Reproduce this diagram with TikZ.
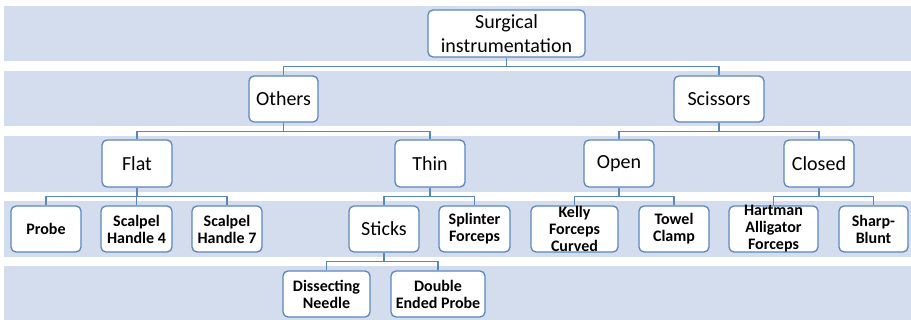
\documentclass[tikz,border=0pt]{standalone}
\usepackage{fontspec}
\setmainfont{Carlito}
\definecolor{band}{HTML}{D3DDED}
\definecolor{edge}{HTML}{5A87BE}
\begin{document}
\begin{tikzpicture}[x=1pt,y=-1pt,
 box/.style={draw=edge, line width=1.3pt, fill=white, rounded corners=5pt, inner sep=0pt, align=center, minimum height=46pt},
 big/.style={font=\fontsize{20}{24}\selectfont},
 small/.style={font=\fontsize{16}{17}\selectfont\bfseries},
 inlabel/.style={label={[small,align=center,inner sep=0pt]center:#1}},
 link/.style={draw=edge, line width=1.3pt}]
\useasboundingbox (0,0) rectangle (911,320);
% bands
\fill[band] (4,6) rectangle (911,61);
\fill[band] (4,71) rectangle (911,126);
\fill[band] (4,136) rectangle (911,192);
\fill[band] (4,201) rectangle (911,257);
\fill[band] (4,266) rectangle (911,320);
% bus coordinates
\coordinate (b1) at (0,66.5);
\coordinate (b2) at (0,131.5);
\coordinate (b3) at (0,196.5);
\coordinate (b4) at (0,261.5);
% nodes
\node[box,big,minimum width=157pt,minimum height=47pt] (root) at (506.5,33.5) {Surgical\\instrumentation};
\node[box,big,minimum width=69pt] (others) at (283.5,99) {Others};
\node[box,big,minimum width=90pt] (scissors) at (719,99) {Scissors};
\node[box,big,minimum width=70pt,minimum height=47pt] (flat) at (137,163.5) {Flat};
\node[box,big,minimum width=70pt,minimum height=47pt] (thin) at (430,163.5) {Thin};
\node[box,big,minimum width=70pt,minimum height=47pt] (open) at (619,163.5) {Open};
\node[box,big,minimum width=70pt,minimum height=47pt] (closed) at (819,163.5) {Closed};
\node[box,small,minimum width=70pt] (probe) at (46,229) {Probe};
\node[box,small,minimum width=71pt] (sh4) at (136.5,229) {Scalpel\\Handle 4};
\node[box,small,minimum width=70pt] (sh7) at (227,229) {Scalpel\\Handle 7};
\node[box,big,minimum width=70pt] (sticks) at (384,229) {Sticks};
\node[box,small,minimum width=71pt] (splinter) at (474.5,229) {Splinter\\Forceps};
\node[box,minimum width=87pt,inlabel={Kelly\\Forceps\\Curved}] (kelly) at (574.5,229) {};
\node[box,small,minimum width=70pt] (towel) at (674,229) {Towel\\Clamp};
\node[box,minimum width=89pt,inlabel={Hartman\\Alligator\\Forceps}] (hartman) at (773.5,229) {};
\node[box,small,minimum width=69pt] (sharp) at (873.5,229) {Sharp-\\Blunt};
\node[box,small,minimum width=87pt] (needle) at (326.5,294) {Dissecting\\Needle};
\node[box,small,minimum width=94pt] (dprobe) at (438,294) {Double\\Ended Probe};
% connectors
\foreach \p/\c/\b in {root/others/b1, root/scissors/b1,
  others/flat/b2, others/thin/b2, scissors/open/b2, scissors/closed/b2,
  flat/probe/b3, flat/sh4/b3, flat/sh7/b3, thin/sticks/b3, thin/splinter/b3,
  open/kelly/b3, open/towel/b3, closed/hartman/b3, closed/sharp/b3,
  sticks/needle/b4, sticks/dprobe/b4}
  \draw[link] (\p.south) |- (\c.north |- \b) -- (\c.north);
\end{tikzpicture}
\end{document}
